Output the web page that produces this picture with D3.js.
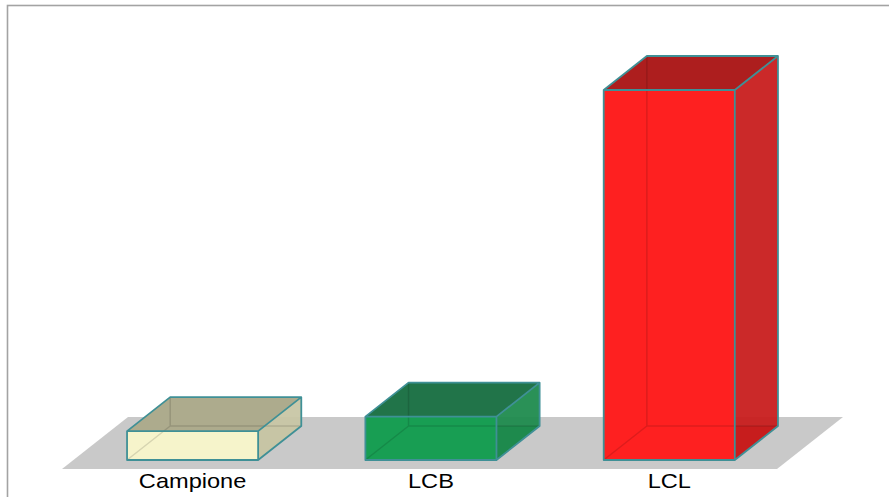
<!DOCTYPE html>
<html>
<head>
<meta charset="utf-8">
<script src="https://cdn.jsdelivr.net/npm/d3@7"></script>
<style>
  html, body { margin: 0; padding: 0; background: #fff; }
  svg { display: block; }
</style>
</head>
<body>
<svg id="chart" width="889" height="497"></svg>
<script>
// Categories and values of the 3D column chart
const categories = ["Campione", "LCB", "LCL"];
const values = [1.0, 1.5, 12.8];

// Face colours per column: front, top, side
const frontColors = ["#F6F4CB", "#189E53", "#FE2020"];
const topColors   = ["#ADAB8D", "#217449", "#AD1E1E"];
const sideColors  = ["#C8C6A5", "#1F8B4E", "#C81E1E"];
const edgeColor = "#3F9096";

const svg = d3.select("#chart");

// Chart frame (open on the right and bottom)
svg.append("rect")
  .attr("x", 7.5).attr("y", 5.5)
  .attr("width", 900).attr("height", 520)
  .attr("fill", "none")
  .attr("stroke", "#A3A3A3")
  .attr("stroke-width", 1.6);

// Floor geometry: front edge and depth vector
const floorY = 469;
const depth = { dx: 66, dy: -52 };
const barFront = 9 / 52, barBack = 43 / 52;   // bar depth as floor fractions

const x = d3.scaleBand()
  .domain(categories)
  .range([62, 777])
  .paddingInner(0.45)
  .paddingOuter(0.225);

const h = d3.scaleLinear()
  .domain([0, d3.max(values)])
  .range([0, 370]);

// Floor parallelogram
const floorPts = [
  [62, floorY],
  [777, floorY],
  [777 + depth.dx, floorY + depth.dy],
  [62 + depth.dx, floorY + depth.dy]
];
svg.append("polygon")
  .attr("points", floorPts.map(p => p.join(",")).join(" "))
  .attr("fill", "#C9C9C9");

const line = d3.line();

const bars = svg.selectAll("g.bar")
  .data(categories.map((c, i) => ({ c, v: values[i], i })))
  .join("g")
  .attr("class", "bar");

bars.each(function (d) {
  const g = d3.select(this);
  const ox = depth.dx * barFront, oy = depth.dy * barFront;
  const bdx = depth.dx * (barBack - barFront), bdy = depth.dy * (barBack - barFront);
  const x0 = x(d.c) + ox, x1 = x0 + x.bandwidth();
  const yb = floorY + oy, yt = yb - h(d.v);

  // front face corners
  const FLB = [x0, yb], FRB = [x1, yb], FRT = [x1, yt], FLT = [x0, yt];
  const sh = p => [p[0] + bdx, p[1] + bdy];
  const BLB = sh(FLB), BRB = sh(FRB), BRT = sh(FRT), BLT = sh(FLT);

  // back faces (seen through the translucent front)
  g.append("path").attr("d", line([FLB, FRB, BRB, BLB]) + "Z")
    .attr("fill", d3.color(sideColors[d.i]).darker(0.3));

  // side face
  g.append("path").attr("d", line([FRB, BRB, BRT, FRT]) + "Z")
    .attr("fill", sideColors[d.i]).attr("fill-opacity", 0.95);
  // top face
  g.append("path").attr("d", line([FLT, FRT, BRT, BLT]) + "Z")
    .attr("fill", topColors[d.i]);
  // front face
  g.append("path").attr("d", line([FLB, FRB, FRT, FLT]) + "Z")
    .attr("fill", frontColors[d.i]);

  // hidden edges faintly visible through faces
  g.append("path")
    .attr("d", line([BLT, BLB, BRB]) + "M" + BLB.join(",") + "L" + FLB.join(","))
    .attr("fill", "none")
    .attr("stroke", "#000")
    .attr("stroke-opacity", 0.13)
    .attr("stroke-width", 1.5);

  // visible edges
  g.append("path")
    .attr("d",
      line([FLB, FRB, BRB, BRT, BLT, FLT]) + "Z" +
      "M" + FLT.join(",") + "L" + FRT.join(",") + "L" + BRT.join(",") +
      "M" + FRT.join(",") + "L" + FRB.join(","))
    .attr("fill", "none")
    .attr("stroke", edgeColor)
    .attr("stroke-width", 1.8)
    .attr("stroke-linejoin", "round");
});

// Category labels
const labelY = 488;
svg.selectAll("text.cat")
  .data(categories)
  .join("text")
  .attr("class", "cat")
  .attr("transform", c => {
    const cx = x(c) + depth.dx * barFront + x.bandwidth() / 2;
    return `translate(${cx},${labelY}) scale(1.18,1)`;
  })
  .attr("text-anchor", "middle")
  .attr("font-family", "Liberation Sans, Arial, sans-serif")
  .attr("font-size", 20)
  .attr("fill", "#000")
  .text(c => c);
</script>
</body>
</html>
